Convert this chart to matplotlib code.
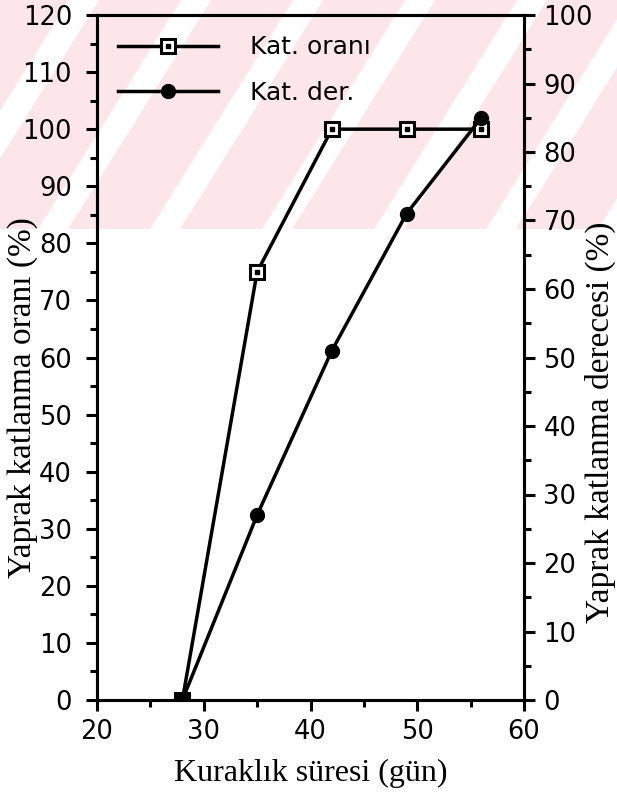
import matplotlib
matplotlib.use("Agg")
import matplotlib.pyplot as plt
from matplotlib.patches import Polygon, Rectangle
import numpy as np

# ---- data ----
days = [28, 35, 42, 49, 56]
kat_orani = [0, 75, 100, 100, 100]        # left axis (%)
kat_derecesi = [0, 27, 51, 71, 85]        # right axis (%)
label_orani = "Kat. oranı"
label_der = "Kat. der."
xlabel = "Kuraklık süresi (gün)"
ylabel_left = "Yaprak katlanma oranı (%)"
ylabel_right = "Yaprak katlanma derecesi (%)"

W, H = 617, 796
fig = plt.figure(figsize=(W / 100, H / 100), dpi=100)

# ---- watermark (pink band with white diagonal stripes) ----
pink = "#fce6e9"
band_top, band_bot = H, H - 229
bh = band_top - band_bot
band = Rectangle((0, band_bot / H), 1, bh / H, transform=fig.transFigure,
                 facecolor=pink, edgecolor="none", zorder=-10)
fig.patches.append(band)
clip = Rectangle((0, band_bot / H), 1, bh / H, transform=fig.transFigure)
dx = bh / np.tan(np.radians(58))
period = 112
wstripe = 30
for x0 in np.arange(150 - 4 * period, W + 200, period):
    pts = [(x0, band_bot), (x0 + wstripe, band_bot),
           (x0 + wstripe + dx, band_top), (x0 + dx, band_top)]
    pts = [(px / W, py / H) for px, py in pts]
    poly = Polygon(pts, closed=True, transform=fig.transFigure,
                   facecolor="white", edgecolor="none", zorder=-9)
    poly.set_clip_path(clip)
    fig.patches.append(poly)

# ---- axes ----
ax = fig.add_axes([97 / W, (H - 700) / H, (524 - 97) / W, (700 - 15) / H])
ax.patch.set_alpha(0)
ax2 = ax.twinx()
ax2.patch.set_alpha(0)

lw = 2.5
l1, = ax.plot(days, kat_orani, color="black", lw=lw, marker="s",
              markersize=10, markerfacecolor="white", markeredgecolor="black",
              markeredgewidth=2.2, zorder=3)
d1, = ax.plot(days, kat_orani, color="none", lw=0, marker="s",
              markersize=2.5, markerfacecolor="black", markeredgecolor="black",
              zorder=4)
l2, = ax2.plot(days, kat_derecesi, color="black", lw=lw, marker="o",
               markersize=10, markerfacecolor="black", markeredgecolor="black",
               zorder=3)

ax.set_xlim(20, 60)
ax.set_ylim(0, 120)
ax2.set_ylim(0, 100)
ax.set_xticks([20, 30, 40, 50, 60])
ax.set_xticks(np.arange(25, 60, 10), minor=True)
ax.set_yticks(np.arange(0, 121, 10))
ax.set_yticks(np.arange(5, 120, 10), minor=True)
ax2.set_yticks(np.arange(0, 101, 10))
ax2.set_yticks(np.arange(5, 100, 10), minor=True)

tickfont = "DejaVu Sans"
for a in (ax, ax2):
    for s in a.spines.values():
        s.set_linewidth(2.2)
ax.tick_params(axis="both", which="major", direction="out", length=8, width=2.2,
               labelsize=18.5)
ax.tick_params(axis="both", which="minor", direction="out", length=5, width=2.2)
ax.tick_params(axis="y", pad=10)
ax.tick_params(axis="x", pad=6)
ax2.tick_params(axis="y", which="major", direction="out", length=8, width=2.2,
                labelsize=18.5, pad=6)
ax2.tick_params(axis="y", which="minor", direction="out", length=5, width=2.2)
for lab in ax.get_xticklabels() + ax.get_yticklabels() + ax2.get_yticklabels():
    lab.set_fontfamily(tickfont)

serif = "Liberation Serif"
ax.set_xlabel(xlabel, fontfamily=serif, fontsize=23, labelpad=10)
ax.set_ylabel(ylabel_left, fontfamily=serif, fontsize=24)
ax2.set_ylabel(ylabel_right, fontfamily=serif, fontsize=24)
ax.yaxis.set_label_coords(-0.138, 0.442)
ax2.yaxis.set_label_coords(1.143, 0.406)

leg = ax.legend([(l1, d1), l2], [label_orani, label_der], loc="upper left",
                frameon=False, handlelength=4.0,
                handletextpad=1.3, labelspacing=0.85, borderaxespad=0,
                bbox_to_anchor=(0.025, 0.985),
                prop={"family": tickfont, "size": 18})

fig.savefig("out.png", dpi=100)
